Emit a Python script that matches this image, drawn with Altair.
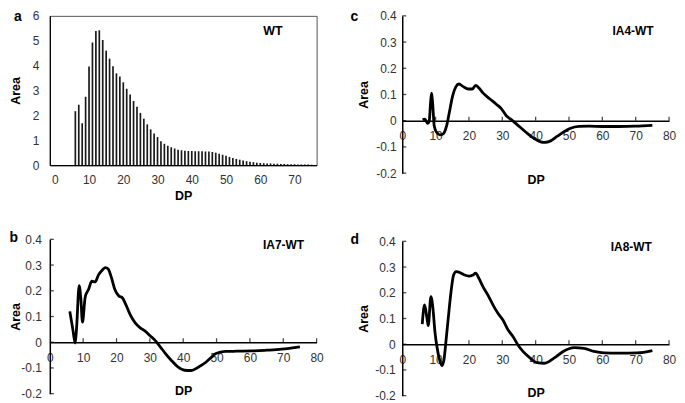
import altair as alt
import pandas as pd

FONT = "Liberation Sans"

# ---------------- data ----------------
# panel a: WT chain-length distribution (bars)
wt_dp = list(range(6, 76))
wt_area = [2.17, 2.43, 1.68, 2.75, 3.96, 4.93, 5.39, 5.42, 5.03, 4.60,
           4.28, 3.97, 3.69, 3.56, 3.33, 3.07, 2.84, 2.58, 2.35, 2.10,
           1.87, 1.64, 1.44, 1.27, 1.13, 0.96, 0.86, 0.78, 0.72, 0.67,
           0.62, 0.60, 0.58, 0.57, 0.57, 0.56, 0.56, 0.56, 0.55, 0.55,
           0.53, 0.50, 0.46, 0.42, 0.38, 0.33, 0.29, 0.25, 0.22, 0.19,
           0.16, 0.14, 0.12, 0.10, 0.09, 0.08, 0.07, 0.07, 0.06, 0.06,
           0.05, 0.05, 0.04, 0.04, 0.04, 0.03, 0.03, 0.03, 0.03, 0.02]

# panel b: IA7-WT
b_dp = [6, 6.9, 7.6, 8.0, 8.8, 9.3, 9.8, 10.6, 11.6, 12.6, 13.6, 14.6, 15.7, 16.7,
        17.5, 18.5, 19.5, 20.7, 21.8, 22.8, 24.1, 25.6, 27.1, 28.6, 30.0, 31.5,
        33, 34.5, 36.4, 38.4, 40.4, 42.4, 44.5, 46.8, 48.5, 49.8, 52.7, 56,
        60.6, 65, 69.5, 75]
b_area = [0.12, 0.05, -0.003, 0.05, 0.22, 0.17, 0.078, 0.175, 0.205, 0.237, 0.235,
          0.262, 0.28, 0.29, 0.285, 0.25, 0.205, 0.18, 0.172, 0.146, 0.107, 0.075,
          0.056, 0.043, 0.026, 0.008, -0.016, -0.041, -0.07, -0.096, -0.109,
          -0.11, -0.097, -0.078, -0.058, -0.044, -0.036, -0.035, -0.034, -0.031,
          -0.027, -0.018]

# panel c: IA4-WT
c_dp = [6.1, 6.8, 7.6, 8.1, 8.5, 8.8, 9.1, 9.6, 10.3, 11.3, 12.3, 13.3, 14.1, 15.1,
        16.1, 17, 18.3, 19.8, 21, 22, 23, 24.2, 26.2, 28.2, 29.7, 31.2, 32.7, 34.2,
        37.1, 40.1, 42.4, 44, 46.4, 48.4, 50.3, 53, 56, 60, 65, 70, 75]
c_area = [0.004, 0.006, -0.01, 0.0, 0.07, 0.105, 0.07, -0.02, -0.044, -0.054, -0.05,
          -0.02, 0.03, 0.094, 0.13, 0.14, 0.13, 0.121, 0.121, 0.135, 0.125, 0.106,
          0.084, 0.063, 0.046, 0.019, 0.004, -0.012, -0.044, -0.072, -0.083, -0.08,
          -0.06, -0.043, -0.03, -0.022, -0.021, -0.022, -0.022, -0.021, -0.018]

# panel d: IA8-WT
d_dp = [6, 6.7, 7.4, 7.8, 8.6, 9.2, 9.8, 10.4, 11.2, 11.9, 12.5, 13.2, 14, 14.7, 15.4,
        16.2, 17.2, 18.7, 20, 21.2, 22, 23, 24.2, 25.7, 27.2, 28.7, 30.2, 31.7, 33.2,
        34.7, 36.2, 38.2, 40.5, 42.5, 45.5, 48.5, 51.5, 54.5, 57.5, 60.5, 65, 70.5, 75]
d_area = [0.078, 0.153, 0.103, 0.072, 0.185, 0.14, 0.049, -0.009, -0.061, -0.083,
          -0.061, 0.023, 0.127, 0.211, 0.269, 0.282, 0.279, 0.269, 0.265, 0.269,
          0.276, 0.256, 0.224, 0.191, 0.153, 0.12, 0.094, 0.056, 0.03, -0.003,
          -0.028, -0.052, -0.072, -0.074, -0.054, -0.026, -0.013, -0.016, -0.028,
          -0.034, -0.035, -0.034, -0.025]

a_xticks = [0, 10, 20, 30, 40, 50, 60, 70]
a_yticks = [0, 1, 2, 3, 4, 5, 6]
diff_xticks = [0, 10, 20, 30, 40, 50, 60, 70, 80]
diff_yticks = [-0.2, -0.1, 0, 0.1, 0.2, 0.3, 0.4]

YLABEL = ("datum.value == 0 ? '0' : (datum.value < 0 ? '-' + format(-datum.value, '.1f') "
          ": format(datum.value, '.1f'))")


def text_layer(txt, x, y, xs, xax, ys, yax, size, align, baseline, dx=0, dy=0):
    return alt.Chart(pd.DataFrame({"t": [txt]})).mark_text(
        font=FONT, fontSize=size, fontWeight="bold", color="black",
        align=align, baseline=baseline, dx=dx, dy=dy
    ).encode(
        x=alt.XDatum(x, type="quantitative", scale=xs, axis=xax),
        y=alt.YDatum(y, type="quantitative", scale=ys, axis=yax),
        text="t:N",
    )


# ---------------- panel a ----------------
A_W, A_H = 268, 150
xs_a = alt.Scale(domain=[0, 75], nice=False)
ys_a = alt.Scale(domain=[0, 6], nice=False)
xax_a = alt.Axis(values=a_xticks, title="DP", ticks=False, tickSize=0,
                 labelPadding=9, titlePadding=4, labelFlush=False,
                 labelOverlap=False,
                 domainColor="black", domainWidth=1.2, grid=False)
yax_a = alt.Axis(values=a_yticks, title="Area", ticks=False, tickSize=0,
                 labelPadding=11, titlePadding=10, labelOverlap=False,
                 domainColor="black", domainWidth=1.2, grid=False)
bars = alt.Chart(pd.DataFrame({"dp": wt_dp, "area": wt_area})).mark_bar(
    size=1.7, color="#1a1a1a").encode(
    x=alt.X("dp:Q", scale=xs_a, axis=xax_a),
    y=alt.Y("area:Q", scale=ys_a, axis=yax_a))
panel_a = alt.layer(
    bars,
    text_layer("WT", 63.7, 5.4, xs_a, xax_a, ys_a, yax_a, 12.5, "center", "middle"),
    text_layer("a", 0, 6, xs_a, xax_a, ys_a, yax_a, 14, "left", "top", dx=-41, dy=-6),
).properties(width=A_W, height=A_H,
             view=alt.ViewBackground(stroke="#555", strokeWidth=1))


# ---------------- difference panels ----------------
def diff_panel(dp, area, label, label_xy, letter, h, letter_dx, letter_dy,
               y_label_pad, y_title_pad, x_title_pad):
    xs = alt.Scale(domain=[0, 80], nice=False)
    ys = alt.Scale(domain=[-0.2, 0.4], nice=False)
    xax = alt.Axis(values=diff_xticks, title="DP", ticks=False, tickSize=0,
                   offset=-h / 3.0, labelPadding=10, titlePadding=x_title_pad,
                   labelFlush=False, labelOverlap=False,
                   domainColor="black", domainWidth=1.5, grid=False)
    yax = alt.Axis(values=diff_yticks, title="Area", ticks=False, tickSize=0,
                   labelExpr=YLABEL, labelPadding=y_label_pad, labelOverlap=False,
                   titlePadding=y_title_pad, domainColor="black",
                   domainWidth=1.5, grid=False)
    line = alt.Chart(pd.DataFrame({"dp": dp, "area": area})).mark_line(
        color="black", strokeWidth=2.8, interpolate="monotone").encode(
        x=alt.X("dp:Q", scale=xs, axis=xax), y=alt.Y("area:Q", scale=ys, axis=yax))
    xt = alt.Chart(pd.DataFrame({"v": diff_xticks[1:]})).mark_tick(
        orient="vertical", size=4, thickness=1.3, color="black", yOffset=-2
    ).encode(x=alt.X("v:Q", scale=xs, axis=xax),
             y=alt.YDatum(0, type="quantitative", scale=ys, axis=yax))
    yt = alt.Chart(pd.DataFrame({"v": diff_yticks})).mark_tick(
        orient="horizontal", size=4, thickness=1.3, color="black", xOffset=2
    ).encode(y=alt.Y("v:Q", scale=ys, axis=yax),
             x=alt.XDatum(0, type="quantitative", scale=xs, axis=xax))
    return alt.layer(
        line, xt, yt,
        text_layer(label, label_xy[0], label_xy[1], xs, xax, ys, yax, 12,
                   "center", "middle"),
        text_layer(letter, 0, 0.4, xs, xax, ys, yax, 14, "left", "top",
                   dx=letter_dx, dy=letter_dy),
    ).properties(width=268, height=h)


panel_b = diff_panel(b_dp, b_area, "IA7-WT", (70.1, 0.379), "b", 155, -40.5, -8.6,
                     8.5, -2, 22)
panel_c = diff_panel(c_dp, c_area, "IA4-WT", (69.2, 0.342), "c", 158, -52, -6,
                     6, 5, 32)
panel_d = diff_panel(d_dp, d_area, "IA8-WT", (68.7, 0.379), "d", 155, -52, -8.6,
                     7, 4.5, 22)

chart = alt.hconcat(
    alt.vconcat(panel_a, panel_b, spacing=27.5),
    alt.vconcat(panel_c, panel_d, spacing=44.5),
    spacing=25,
).properties(padding=0).configure_view(stroke="transparent").configure_axis(
    labelFont=FONT, labelFontSize=12, labelColor="#333",
    titleFont=FONT, titleFontSize=12.5, titleFontWeight="bold", titleColor="black"
).resolve_scale(x="independent", y="independent")

chart.save("out.html", embed_options={"renderer": "svg", "actions": False})
